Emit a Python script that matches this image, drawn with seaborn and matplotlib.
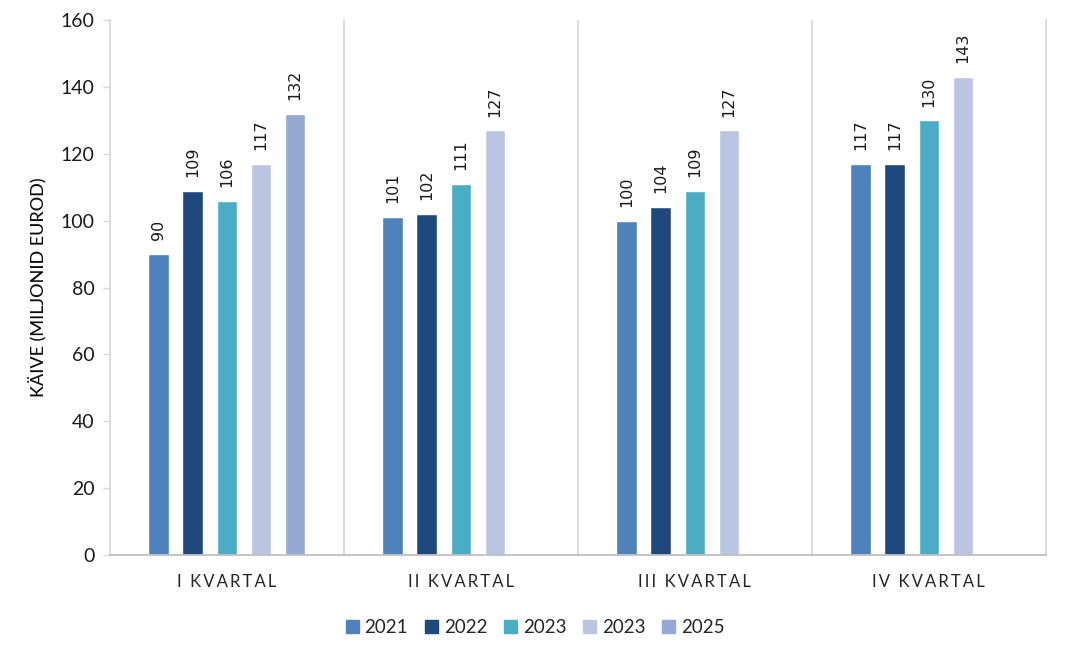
import numpy as np
import pandas as pd
import matplotlib
matplotlib.use("Agg")
import matplotlib.pyplot as plt
import seaborn as sns

# data
quarters = ["I KVARTAL", "II KVARTAL", "III KVARTAL", "IV KVARTAL"]
series_ids = ["s2021", "s2022", "s2023a", "s2023b", "s2025"]
legend_labels = ["2021", "2022", "2023", "2023", "2025"]
v2021 = [90, 101, 100, 117]
v2022 = [109, 102, 104, 117]
v2023a = [106, 111, 109, 130]
v2023b = [117, 127, 127, 143]
v2025 = [132, np.nan, np.nan, np.nan]
colors = ["#4F81BD", "#1F497D", "#4BACC6", "#BAC6E1", "#94A9D3"]
yticks = [0, 20, 40, 60, 80, 100, 120, 140, 160]

rows = []
for sid, vals in zip(series_ids, [v2021, v2022, v2023a, v2023b, v2025]):
    for q, v in zip(quarters, vals):
        if not np.isnan(v):
            rows.append({"quarter": q, "series": sid, "value": v})
df = pd.DataFrame(rows)

sns.set_style("white")
plt.rcParams['font.family'] = ['Lato', 'DejaVu Sans']

fig = plt.figure(figsize=(10.66, 6.52), dpi=100)
ax = fig.add_axes([0.103, 0.149, 0.878, 0.82])

sns.barplot(data=df, x="quarter", y="value", hue="series", order=quarters,
            hue_order=series_ids, palette=colors, width=0.73, gap=0.4,
            errorbar=None, saturation=1, ax=ax, legend=False)

for cont in ax.containers:
    ax.bar_label(cont, fmt="%.0f", rotation=90, padding=10, fontsize=11.5,
                 family="DejaVu Sans", color="#1a1a1a")

ax.set_ylim(0, 160)
ax.set_yticks(yticks)
ax.set_xlim(-0.5, 3.5)
ax.set_xlabel("")
ax.set_ylabel("KÄIVE (MILJONID EUROD)", fontsize=13, color="#0d0d0d", labelpad=10,
              fontweight="medium")

# letter spacing imitation
spaced = ["\u2009".join(list(q)).replace("\u2009 \u2009", "  ") for q in quarters]
ax.set_xticks(range(len(quarters)))
ax.set_xticklabels(spaced, fontsize=12, color="#262626")
ax.tick_params(axis="x", length=0, pad=14)
ax.tick_params(axis="y", labelsize=14, colors="#1a1a1a", length=5, width=1,
               direction="out", left=True, pad=6)
ax.tick_params(axis="y", color="#D9D9D9")

for b in [0.5, 1.5, 2.5]:
    ax.axvline(b, color="#D9D9D9", lw=1.3, zorder=0)

for side in ["left", "right"]:
    ax.spines[side].set_color("#D9D9D9")
    ax.spines[side].set_linewidth(1.3)
ax.spines["top"].set_visible(False)
ax.spines["bottom"].set_color("#BFBFBF")
ax.spines["bottom"].set_linewidth(1.3)

handles = [plt.Rectangle((0, 0), 1, 1, color=c) for c in colors]
fig.legend(handles, legend_labels, loc="center", bbox_to_anchor=(0.502, 0.037),
           ncol=5, frameon=False, fontsize=13.5, handlelength=0.7, handleheight=0.7,
           handletextpad=0.3, columnspacing=0.9)

fig.savefig("out.png", dpi=100)
